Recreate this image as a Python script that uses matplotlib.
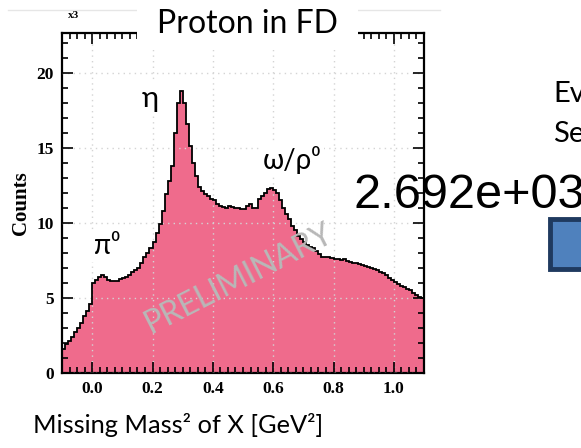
import numpy as np
import matplotlib
matplotlib.use("Agg")
import matplotlib.pyplot as plt
from matplotlib.patches import Rectangle
from matplotlib.lines import Line2D
from matplotlib.ticker import MultipleLocator

# missing mass squared histogram, counts in units of 1e3, bins of 0.01 GeV^2
bin_edges = np.round(np.arange(-0.10, 1.1001, 0.01), 3)
counts_k = [
    1.6, 1.9, 2.1, 2.4, 2.7, 3.0, 3.3, 3.8, 4.1, 4.6,
    6.0, 6.2, 6.4, 6.5, 6.4, 6.2, 6.1, 6.1, 6.15, 6.25,
    6.3, 6.4, 6.55, 6.7, 6.85, 7.0, 7.3, 7.7, 8.0, 8.3,
    8.7, 9.3, 9.9, 10.8, 11.9, 12.8, 13.8, 16.0, 18.0, 18.8,
    18.0, 16.6, 15.1, 14.0, 13.1, 12.35, 12.1, 11.9, 11.8, 11.6,
    11.5, 11.25, 11.1, 11.05, 11.0, 11.1, 11.05, 11.0, 11.0, 10.9,
    10.9, 11.1, 11.25, 11.0, 11.0, 11.6, 11.8, 12.0, 12.25, 12.3,
    12.2, 12.0, 11.5, 11.0, 10.6, 10.25, 9.8, 9.5, 9.15, 8.9,
    8.7, 8.5, 8.4, 8.3, 8.1, 7.9, 7.75, 7.7, 7.7, 7.65,
    7.6, 7.6, 7.5, 7.6, 7.45, 7.4, 7.35, 7.3, 7.25, 7.2,
    7.1, 7.05, 7.0, 6.9, 6.85, 6.75, 6.65, 6.5, 6.35, 6.2,
    6.05, 5.95, 5.8, 5.7, 5.6, 5.5, 5.35, 5.2, 5.05, 5.0,
]
x_ticks = [0.0, 0.2, 0.4, 0.6, 0.8, 1.0]
y_ticks = [0, 5, 10, 15, 20]

W, H = 581, 448
fig = plt.figure(figsize=(W/100, H/100), dpi=100)

def fx(px):
    return px/W

def fy(py):
    return 1 - py/H

sans = ['Lato', 'Noto Sans', 'DejaVu Sans']
serif = ['Liberation Serif', 'DejaVu Serif']
pink = '#EF6B8C'

ax = fig.add_axes([fx(62), fy(373), fx(424)-fx(62), fy(33.5)-fy(373)])
ax.stairs(counts_k, bin_edges, fill=True, color=pink, lw=0, zorder=2)
ax.stairs(counts_k, bin_edges, color='black', lw=1.3, zorder=3)
ax.set_xlim(-0.1, 1.1)
ax.set_ylim(0, 22.6)
ax.set_xticks(x_ticks)
ax.set_yticks(y_ticks)
ax.xaxis.set_minor_locator(MultipleLocator(0.025))
ax.yaxis.set_minor_locator(MultipleLocator(1))
ax.set_xticklabels(['%.1f' % v for v in x_ticks], family=serif, weight='bold', fontsize=12.5)
ax.set_yticklabels([str(v) for v in y_ticks], family=serif, weight='bold', fontsize=12.5)
ax.tick_params(which='both', direction='in', top=True, right=True, width=1.2)
ax.tick_params(which='major', length=8, pad=6)
ax.tick_params(which='minor', length=4)
# dotted grid drawn over the fill, under the outline
ax.set_axisbelow(False)
ax.grid(True, which='major', ls=(0, (1, 3)), color='#d4d4d4', lw=1.0, zorder=2.5)
for gl in ax.get_xgridlines() + ax.get_ygridlines():
    gl.set_zorder(2.5)
for s in ax.spines.values():
    s.set_linewidth(1.6)
ax.set_ylabel('Counts', family=serif, weight='bold', fontsize=15, labelpad=4)

# ROOT-like exponent
fig.text(fx(74), fy(16), 'x3', family=serif, weight='bold', fontsize=8, ha='center', va='center')

# particle labels with white boxes
lbl_box = dict(facecolor='white', edgecolor='none', pad=2)
fig.text(fx(150), fy(99), 'η', family=sans, fontsize=21, ha='center', va='center', bbox=lbl_box, zorder=5)
fig.text(fx(292), fy(160), 'ω/ρ⁰', family=sans, fontsize=20, ha='center', va='center', bbox=lbl_box, zorder=5)
fig.text(fx(107), fy(246), 'π⁰', family=sans, fontsize=20, ha='center', va='center', bbox=lbl_box, zorder=5)

fig.text(fx(238), fy(279), 'PRELIMINARY', family=sans, fontsize=23, color='#b8b8b8',
         rotation=27, ha='center', va='center', zorder=6)

# slide decorations: thin rule and title box covering the frame
fig.add_artist(Line2D([fx(8), fx(440)], [fy(10), fy(10)], color='#e6e6e6', lw=1, zorder=0))
fig.add_artist(Rectangle((fx(137), fy(50)), fx(358)-fx(137), fy(0)-fy(50),
                         facecolor='white', edgecolor='none', zorder=4))
fig.text(fx(247.5), fy(33), 'Proton in FD', family=sans, fontsize=23, ha='center', va='baseline', zorder=5)

fig.text(fx(178.5), fy(433), 'Missing Mass² of X [GeV²]', family=sans, fontsize=18.3,
         ha='center', va='baseline')

fig.text(fx(553), fy(102), 'Ev', family=sans, fontsize=21, ha='left', va='baseline')
fig.text(fx(553), fy(142), 'Se', family=sans, fontsize=21, ha='left', va='baseline')
fig.text(fx(354), fy(208), '2.692e+03', family=['Liberation Sans', 'DejaVu Sans'], fontsize=35,
         ha='left', va='baseline', zorder=7)
fig.add_artist(Rectangle((fx(550), fy(269)), fx(590)-fx(550), fy(219)-fy(269),
                         facecolor='#4F81BD', edgecolor='#1F3A5F', lw=3.5))

fig.savefig('out.png', dpi=100)
